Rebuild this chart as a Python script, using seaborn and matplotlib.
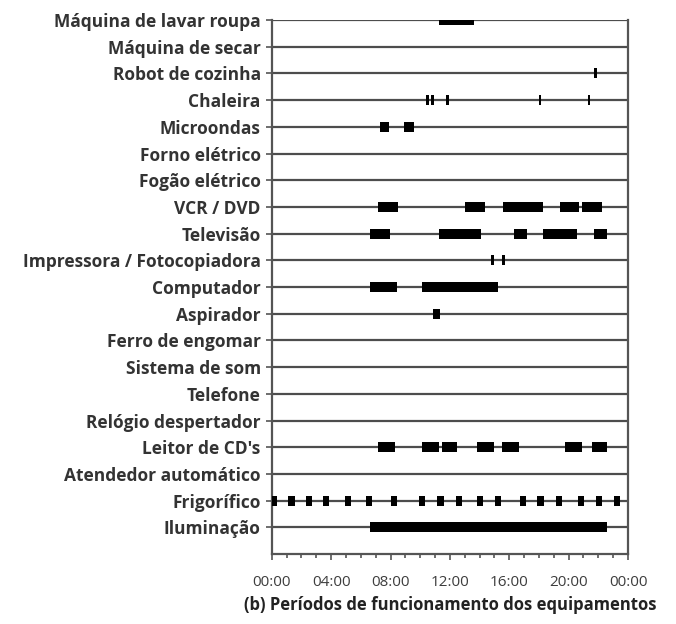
import numpy as np
import matplotlib
matplotlib.use("Agg")
import matplotlib.pyplot as plt
import seaborn as sns

# appliances, top to bottom
devices = ["Máquina de lavar roupa", "Máquina de secar", "Robot de cozinha",
           "Chaleira", "Microondas", "Forno elétrico", "Fogão elétrico",
           "VCR / DVD", "Televisão", "Impressora / Fotocopiadora",
           "Computador", "Aspirador", "Ferro de engomar", "Sistema de som",
           "Telefone", "Relógio despertador", "Leitor de CD's",
           "Atendedor automático", "Frigorífico", "Iluminação"]

# on-periods per appliance (start hour, end hour)
lavar = [(11.3, 13.65)]
secar = []
robot = [(21.7, 21.9)]
chaleira = [(10.40, 10.57), (10.73, 10.90), (11.74, 11.91), (17.99, 18.16), (21.30, 21.47)]
microondas = [(7.28, 7.91), (8.9, 9.57)]
forno = []
fogao = []
vcr = [(7.19, 8.52), (13.01, 14.36), (15.6, 18.3), (19.42, 20.72), (20.9, 22.23)]
televisao = [(6.61, 7.96), (11.26, 14.09), (16.32, 17.17), (18.3, 20.59), (21.71, 22.61)]
impressora = [(14.78, 14.95), (15.54, 15.71)]
computador = [(6.61, 8.45), (10.14, 15.26)]
aspirador = [(10.88, 11.33)]
ferro = []
som = []
telefone = []
despertador = []
cd = [(7.17, 8.29), (10.14, 11.26), (11.44, 12.5), (13.8, 14.97),
      (15.49, 16.68), (19.76, 20.88), (21.6, 22.61)]
atendedor = []
frigo_centers = [0.13, 1.33, 2.52, 3.64, 5.15, 6.54, 8.23, 10.14, 11.37,
                 12.63, 14.03, 15.26, 16.94, 18.11, 19.35, 20.81, 22.05, 23.28]
iluminacao = [(6.61, 22.61)]

frigo_w = 0.42
frigo = [(c - frigo_w / 2, c + frigo_w / 2) for c in frigo_centers]

periods = [lavar, secar, robot, chaleira, microondas, forno, fogao, vcr,
           televisao, impressora, computador, aspirador, ferro, som, telefone,
           despertador, cd, atendedor, frigo, iluminacao]

sns.set_style("ticks")
plt.rcParams['font.family'] = ['Open Sans', 'DejaVu Sans']

fig = plt.figure(figsize=(6.76, 6.24), dpi=100)
ax = fig.add_axes([0.402, 0.112, 0.527, 0.856])

rows = np.arange(1, len(devices) + 1)
ax.hlines(rows, 0, 24, color='#4d4d4d', lw=1.6, zorder=1)

for y, segs in zip(rows, periods):
    if segs:
        ax.broken_barh([(s, e - s) for s, e in segs], (y - 0.19, 0.38),
                       facecolor='black', edgecolor='none', zorder=3)

ax.set_ylim(21, 1)
ax.set_xlim(0, 24)
ax.set_yticks(rows)
ax.set_yticklabels(devices, fontsize=12.5, fontweight='bold', color='#333333')
ax.set_xticks(np.arange(0, 25, 4))
ax.set_xticklabels(['00:00', '04:00', '08:00', '12:00', '16:00', '20:00', '00:00'],
                   fontsize=11, color='#3d3d3d')
ax.set_xticks(np.arange(0, 25, 1), minor=True)
ax.tick_params(axis='both', which='both', direction='out', length=4,
               width=1.2, color='#555555')
ax.tick_params(axis='y', pad=4)
ax.tick_params(axis='x', which='major', pad=11)
ax.tick_params(axis='x', which='minor', length=3)

for side in ['left', 'right', 'bottom']:
    ax.spines[side].set_color('#555555')
    ax.spines[side].set_linewidth(1.6)
ax.spines['top'].set_visible(False)

ax.set_xlabel('(b) Períodos de funcionamento dos equipamentos',
              fontsize=12, fontweight='bold', color='#222222', labelpad=4)

fig.savefig('out.png', dpi=100, facecolor='white')
